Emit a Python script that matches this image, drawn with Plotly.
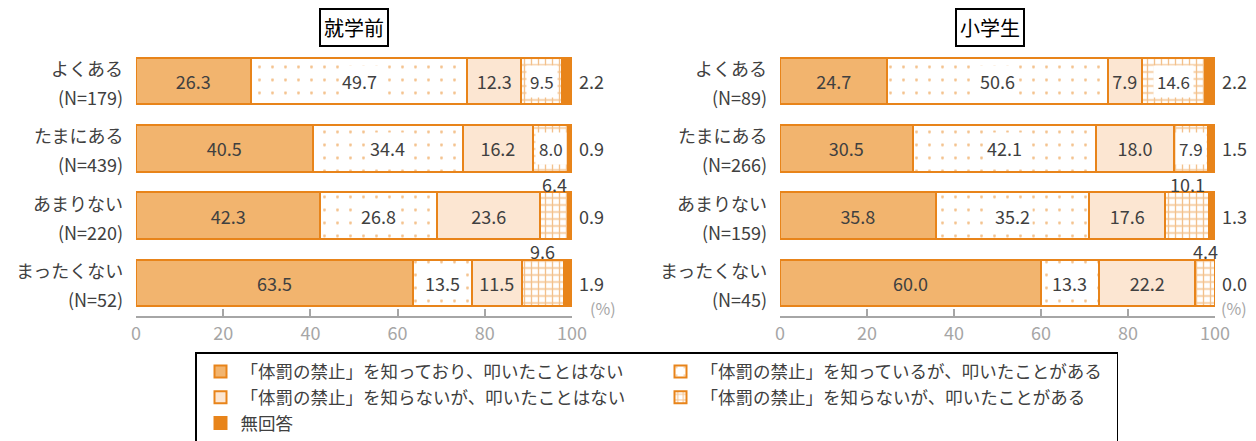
import plotly.graph_objects as go

categories = ["よくある", "たまにある", "あまりない", "まったくない"]
n_preschool = [179, 439, 220, 52]
n_elementary = [89, 266, 159, 45]

series_names = [
    "「体罰の禁止」を知っており、叩いたことはない",
    "「体罰の禁止」を知っているが、叩いたことがある",
    "「体罰の禁止」を知らないが、叩いたことはない",
    "「体罰の禁止」を知らないが、叩いたことがある",
    "無回答",
]

# 就学前
pre_knows_never = [26.3, 40.5, 42.3, 63.5]
pre_knows_hit = [49.7, 34.4, 26.8, 13.5]
pre_unaware_never = [12.3, 16.2, 23.6, 11.5]
pre_unaware_hit = [9.5, 8.0, 6.4, 9.6]
pre_no_answer = [2.2, 0.9, 0.9, 1.9]

# 小学生
ele_knows_never = [24.7, 30.5, 35.8, 60.0]
ele_knows_hit = [50.6, 42.1, 35.2, 13.3]
ele_unaware_never = [7.9, 18.0, 17.6, 22.2]
ele_unaware_hit = [14.6, 7.9, 10.1, 4.4]
ele_no_answer = [2.2, 1.5, 1.3, 0.0]

panels = [
    ("就学前", n_preschool,
     [pre_knows_never, pre_knows_hit, pre_unaware_never, pre_unaware_hit, pre_no_answer]),
    ("小学生", n_elementary,
     [ele_knows_never, ele_knows_hit, ele_unaware_never, ele_unaware_hit, ele_no_answer]),
]

ORANGE = "#E8841A"
TEXT = "#404040"
GRAY = "#A6A6A6"
FONT = "Noto Sans CJK JP"

markers = [
    dict(color="#F2B46E"),
    dict(color="white", pattern=dict(shape=".", fgcolor=ORANGE, bgcolor="white", size=13, solidity=0.04)),
    dict(color="#FCE6D2"),
    dict(color="white", pattern=dict(shape="+", fgcolor=ORANGE, bgcolor="white", size=7, solidity=0.35)),
    dict(color=ORANGE),
]

# page body has an 8px margin, so the figure is 8px smaller than the window
W, H = 1248, 433
x_domains = [[0.10256, 0.45192], [0.61859, 0.96715]]
title_x = [0.27724, 0.78686]
pct_shift = [16, 4]
above_rows = {2, 3}  # rows where the 4th segment label sits above the bar

fig = go.Figure()
annotations = []

for p, (title, ns, series) in enumerate(panels):
    xa = "x" if p == 0 else "x2"
    ya = "y" if p == 0 else "y2"
    for s, (name, vals) in enumerate(zip(series_names, series)):
        m = dict(markers[s])
        m["line"] = dict(color=ORANGE, width=2)
        text_inside = s in (0, 2)
        fig.add_trace(go.Bar(
            x=vals, y=categories, orientation="h", name=name, marker=m,
            xaxis=xa, yaxis=ya, showlegend=(p == 0), hoverinfo="skip",
            text=[f"{v:.1f}" for v in vals] if text_inside else None,
            textposition="inside" if text_inside else "none",
            insidetextanchor="middle", textangle=0,
            textfont=dict(size=18, color=TEXT, family=FONT),
        ))

    for i, cat in enumerate(categories):
        base = 0.0
        for s in range(5):
            v = series[s][i]
            center = base + v / 2
            label = f"{v:.1f}"
            if s == 1:
                annotations.append(dict(x=center, y=cat, xref=xa, yref=ya, text=label, showarrow=False,
                                        bgcolor="white", borderpad=2,
                                        font=dict(size=18, color=TEXT, family=FONT)))
            elif s == 3:
                if i in above_rows:
                    annotations.append(dict(x=center, y=cat, xref=xa, yref=ya, text=label, showarrow=False,
                                            yshift=32, font=dict(size=18, color=TEXT, family=FONT)))
                else:
                    annotations.append(dict(x=center, y=cat, xref=xa, yref=ya, text=label, showarrow=False,
                                            bgcolor="white", borderpad=3,
                                            font=dict(size=17, color=TEXT, family=FONT)))
            elif s == 4:
                annotations.append(dict(x=100, y=cat, xref=xa, yref=ya, text=label, showarrow=False,
                                        xanchor="left", xshift=5,
                                        font=dict(size=18, color=TEXT, family=FONT)))
            base += v

        # category labels (two lines)
        annotations.append(dict(x=0, y=cat, xref=f"{xa} domain", yref=ya, text=cat, showarrow=False,
                                xanchor="right", xshift=-11, yshift=13,
                                font=dict(size=18, color=TEXT, family=FONT)))
        annotations.append(dict(x=0, y=cat, xref=f"{xa} domain", yref=ya, text=f"(N={ns[i]})",
                                showarrow=False, xanchor="right", xshift=-11, yshift=-16,
                                font=dict(size=18, color=TEXT, family=FONT)))

    annotations.append(dict(x=title_x[p], y=0.9561, xref="paper", yref="paper", text=title,
                            xanchor="center", yanchor="middle",
                            showarrow=False, bordercolor="black", borderwidth=2, borderpad=3,
                            font=dict(size=20, color="black", family=FONT)))
    annotations.append(dict(x=1, y=0, xref=f"{xa} domain", yref=f"{ya} domain", text="(%)",
                            showarrow=False, xanchor="left", yanchor="middle",
                            xshift=pct_shift[p], yshift=8,
                            font=dict(size=16, color=GRAY, family=FONT)))

xaxis_style = dict(range=[0, 100], tickvals=[0, 20, 40, 60, 80, 100], showgrid=False, zeroline=False,
                   showline=True, linecolor=GRAY, linewidth=2, ticks="inside", ticklen=7,
                   tickwidth=2, tickcolor=GRAY, automargin=False,
                   tickfont=dict(size=18, color=GRAY, family=FONT))
yaxis_style = dict(type="category", range=[3.5, -0.5], domain=[0.28753, 0.90878], showgrid=False,
                   zeroline=False, showline=False, showticklabels=False, ticks="", automargin=False)

fig.update_layout(
    width=W, height=H,
    margin=dict(l=0, r=0, t=0, b=0, autoexpand=False),
    paper_bgcolor="white", plot_bgcolor="white",
    barmode="stack", bargap=0.31,
    font=dict(family=FONT, color=TEXT),
    xaxis=dict(domain=x_domains[0], anchor="y", **xaxis_style),
    xaxis2=dict(domain=x_domains[1], anchor="y2", **xaxis_style),
    yaxis=dict(anchor="x", **yaxis_style),
    yaxis2=dict(anchor="x2", **yaxis_style),
    legend=dict(orientation="h", x=0.14984, y=0.20554, xanchor="left", yanchor="top",
                bordercolor="black", borderwidth=1.5, bgcolor="white",
                entrywidth=411, entrywidthmode="pixels", indentation=4,
                font=dict(size=17.5, color=TEXT, family=FONT), traceorder="normal"),
    annotations=annotations,
)

fig.write_html("out.html")
